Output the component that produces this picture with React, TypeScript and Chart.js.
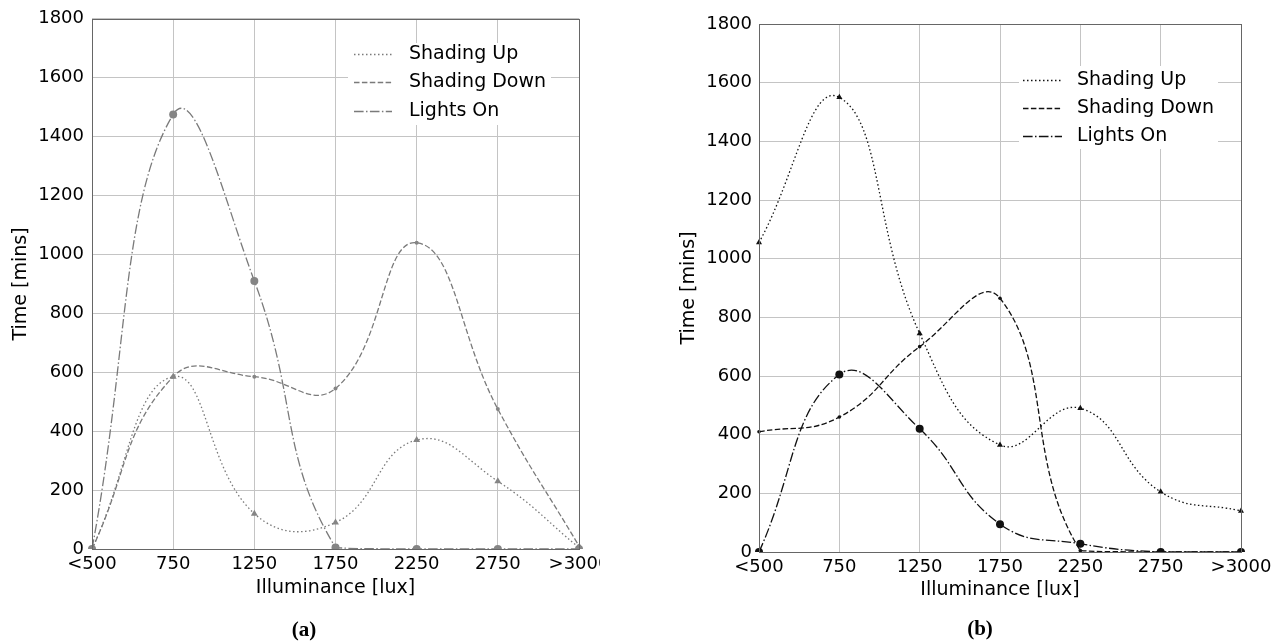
import React, { useEffect, useRef } from "react";
import { Chart, registerables } from "chart.js";

Chart.register(...registerables);

// ---------- data ----------
const categories = ["<500", "750", "1250", "1750", "2250", "2750", ">3000"];
const seriesNames = ["Shading Up", "Shading Down", "Lights On"];

const aShadingUp = [0, 585, 120, 90, 370, 230, 5];
const aShadingDown = [0, 585, 585, 545, 1040, 475, 10];
const aLightsOn = [0, 1475, 910, 5, 0, 0, 0];

const bShadingUp = [1055, 1550, 745, 365, 490, 205, 140];
const bShadingDown = [410, 460, 700, 865, 5, 0, 0];
const bLightsOn = [0, 605, 420, 95, 28, 0, 0];

const yMin = 0;
const yMax = 1800;
const yStep = 200;

const xTitle = "Illuminance [lux]";
const yTitle = "Time [mins]";
const captions = ["(a)", "(b)"];

// ---------- styling ----------
const FONT = '"DejaVu Sans", sans-serif';
const DOT = [1.5, 2.5];
const DASH = [5.5, 2.4];
const DASHDOT = [9.6, 2.4, 1.5, 2.4];

type Panel = {
  canvasW: number;
  canvasH: number;
  padTop: number;
  padRight: number;
  yAxisW: number;
  xAxisH: number;
  yTitlePad: number;
  xTitlePad: number;
  yTickPad: number;
  color: string;
  markerColor: string;
  data: number[][];
  markerRadius: number[];
  legend: { bx: number; by: number; bw: number; bh: number; lx0: number; lx1: number; tx: number; rows: number[] };
};

function makeChart(canvas: HTMLCanvasElement, p: Panel) {
  const styles = [DOT, DASH, DASHDOT];
  const pointStyles = ["triangle", "circle", "circle"];

  const framePlugin = {
    id: "frameAndLegend",
    afterDraw(chart: any) {
      const ctx = chart.ctx as CanvasRenderingContext2D;
      const a = chart.chartArea;
      ctx.save();
      ctx.strokeStyle = "#666";
      ctx.lineWidth = 1;
      ctx.setLineDash([]);
      ctx.strokeRect(Math.round(a.left) + 0.5, Math.round(a.top) + 0.5, Math.round(a.right - a.left), Math.round(a.bottom - a.top));
      // legend
      const L = p.legend;
      ctx.fillStyle = "#fff";
      ctx.fillRect(L.bx, L.by, L.bw, L.bh);
      chart.data.datasets.forEach((ds: any, i: number) => {
        const y = L.rows[i];
        ctx.strokeStyle = ds.borderColor;
        ctx.lineWidth = ds.borderWidth;
        ctx.setLineDash(ds.borderDash);
        ctx.beginPath();
        ctx.moveTo(L.lx0, y + 0.5);
        ctx.lineTo(L.lx1, y + 0.5);
        ctx.stroke();
        ctx.setLineDash([]);
        ctx.fillStyle = "#000";
        ctx.font = `19px ${FONT}`;
        ctx.textBaseline = "middle";
        ctx.textAlign = "left";
        ctx.fillText(ds.label, L.tx, y);
      });
      ctx.restore();
    },
  };

  return new Chart(canvas, {
    type: "line",
    data: {
      labels: categories,
      datasets: seriesNames.map((name, i) => ({
        label: name,
        data: p.data[i],
        borderColor: p.color,
        borderWidth: 1.3,
        borderDash: styles[i],
        backgroundColor: p.markerColor,
        pointBackgroundColor: p.markerColor,
        pointBorderColor: p.markerColor,
        pointBorderWidth: 0,
        pointStyle: pointStyles[i] as any,
        pointRadius: p.markerRadius[i],
        tension: 0.45,
        fill: false,
      })),
    },
    options: {
      animation: false,
      responsive: false,
      devicePixelRatio: 1,
      layout: { padding: { top: p.padTop, right: p.padRight, left: 0, bottom: 0 } },
      plugins: { legend: { display: false }, tooltip: { enabled: false } },
      scales: {
        x: {
          type: "category",
          offset: false,
          grid: { color: "#c4c4c4", lineWidth: 1, drawTicks: false },
          border: { display: false },
          ticks: { color: "#000", font: { size: 18, family: FONT }, padding: 5, autoSkip: false, maxRotation: 0 },
          title: { display: true, text: xTitle, color: "#000", font: { size: 19, family: FONT }, padding: { top: 0, bottom: p.xTitlePad } },
          afterFit: (s: any) => {
            s.height = p.xAxisH;
            s.paddingLeft = 0;
            s.paddingRight = 0;
          },
        },
        y: {
          min: yMin,
          max: yMax,
          grid: { color: "#c4c4c4", lineWidth: 1, drawTicks: false },
          border: { display: false },
          ticks: {
            stepSize: yStep,
            color: "#000",
            font: { size: 18, family: FONT },
            padding: p.yTickPad,
            callback: (v: any) => String(v),
          },
          title: { display: true, text: yTitle, color: "#000", font: { size: 19, family: FONT }, padding: { top: p.yTitlePad, bottom: 0 } },
          afterFit: (s: any) => {
            s.width = p.yAxisW;
          },
        },
      },
    },
    plugins: [framePlugin],
  } as any);
}

const panelA: Panel = {
  canvasW: 620,
  canvasH: 641,
  padTop: 16,
  padRight: 41,
  yAxisW: 92,
  xAxisH: 92,
  yTitlePad: 10,
  xTitlePad: 42,
  yTickPad: 8,
  color: "#7a7a7a",
  markerColor: "#858585",
  data: [aShadingUp, aShadingDown, aLightsOn],
  markerRadius: [4, 2, 4],
  legend: { bx: 348, by: 43, bw: 203, bh: 82, lx0: 354, lx1: 392, tx: 409, rows: [54, 82, 111] },
};

const panelB: Panel = {
  canvasW: 641,
  canvasH: 641,
  padTop: 24,
  padRight: 40,
  yAxisW: 119,
  xAxisH: 89,
  yTitlePad: 38,
  xTitlePad: 40,
  yTickPad: 7,
  color: "#111",
  markerColor: "#111",
  data: [bShadingUp, bShadingDown, bLightsOn],
  markerRadius: [3.5, 1.8, 4],
  legend: { bx: 379, by: 66, bw: 199, bh: 83, lx0: 383, lx1: 422, tx: 437, rows: [80, 108, 136] },
};

function ChartCanvas({ panel }: { panel: Panel }) {
  const ref = useRef<HTMLCanvasElement | null>(null);
  useEffect(() => {
    if (!ref.current) return;
    const c = makeChart(ref.current, panel);
    return () => c.destroy();
  }, [panel]);
  return (
    <canvas
      ref={ref}
      width={panel.canvasW}
      height={panel.canvasH}
      style={{ width: panel.canvasW, height: panel.canvasH, display: "block" }}
    />
  );
}

export default function App() {
  const captionStyle: React.CSSProperties = {
    position: "absolute",
    width: 80,
    textAlign: "center",
    fontFamily: '"Liberation Serif", "Times New Roman", serif',
    fontWeight: "bold",
    fontSize: 21,
    lineHeight: "22px",
    color: "#000",
  };
  return (
    <div style={{ position: "absolute", left: 0, top: 0, width: 1281, height: 641, background: "#fff", overflow: "hidden" }}>
      <div style={{ position: "absolute", left: 0, top: 0, width: 600, height: 641, overflow: "hidden" }}>
        <ChartCanvas panel={panelA} />
      </div>
      <div style={{ position: "absolute", left: 640, top: 0, width: 641, height: 641 }}>
        <ChartCanvas panel={panelB} />
      </div>
      <div style={{ ...captionStyle, left: 304 - 40, top: 618 }}>{captions[0]}</div>
      <div style={{ ...captionStyle, left: 980 - 40, top: 617 }}>{captions[1]}</div>
    </div>
  );
}
